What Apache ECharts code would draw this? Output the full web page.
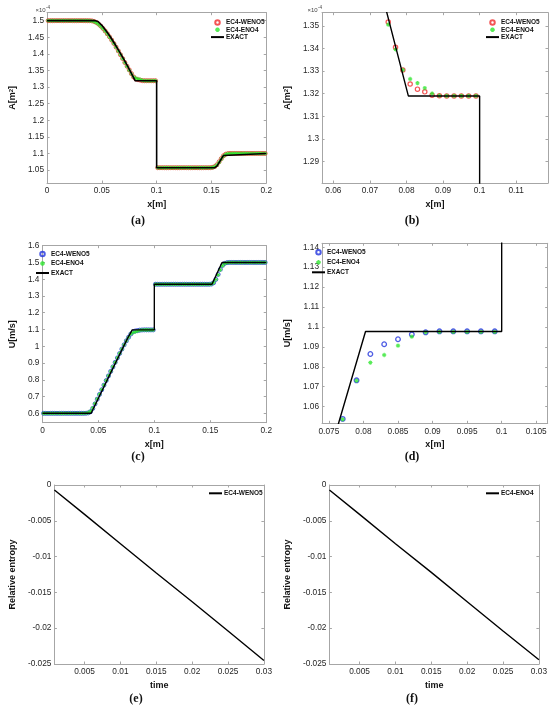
<!DOCTYPE html>
<html><head><meta charset="utf-8">
<script src="https://cdn.jsdelivr.net/npm/echarts@6/dist/echarts.min.js"></script>
<style>
html,body{margin:0;padding:0;background:#fff;width:550px;height:708px;overflow:hidden}
.p{position:absolute}
</style></head>
<body>
<div id="pa" class="p" style="left:0;top:0;width:275px;height:232px"></div>
<div id="pb" class="p" style="left:275px;top:0;width:275px;height:232px"></div>
<div id="pc" class="p" style="left:0;top:230px;width:275px;height:238px"></div>
<div id="pd" class="p" style="left:275px;top:230px;width:275px;height:238px"></div>
<div id="pe" class="p" style="left:0;top:460px;width:275px;height:248px"></div>
<div id="pf" class="p" style="left:275px;top:460px;width:275px;height:248px"></div>
<script>
// ---------- data ----------
const xCells = [
0.001,0.003,0.005,0.007,0.009,0.011,0.013,0.015,0.017,0.019,
0.021,0.023,0.025,0.027,0.029,0.031,0.033,0.035,0.037,0.039,
0.041,0.043,0.045,0.047,0.049,0.051,0.053,0.055,0.057,0.059,
0.061,0.063,0.065,0.067,0.069,0.071,0.073,0.075,0.077,0.079,
0.081,0.083,0.085,0.087,0.089,0.091,0.093,0.095,0.097,0.099,
0.101,0.103,0.105,0.107,0.109,0.111,0.113,0.115,0.117,0.119,
0.121,0.123,0.125,0.127,0.129,0.131,0.133,0.135,0.137,0.139,
0.141,0.143,0.145,0.147,0.149,0.151,0.153,0.155,0.157,0.159,
0.161,0.163,0.165,0.167,0.169,0.171,0.173,0.175,0.177,0.179,
0.181,0.183,0.185,0.187,0.189,0.191,0.193,0.195,0.197,0.199];

// A in units of 1e-4 m^2
const aWENO5 = [
1.5,1.5,1.5,1.5,1.5,1.5,1.5,1.5,1.5,1.5,
1.5,1.5,1.5,1.5,1.5,1.5,1.5,1.5,1.4999,1.4998,
1.4993,1.4975,1.4945,1.4898,1.4838,1.4768,1.4690,1.4605,1.4513,1.4415,
1.4312,1.4203,1.4090,1.3975,1.3858,1.3740,1.3628,1.3518,1.3406,1.3305,
1.3243,1.3220,1.3208,1.3193,1.3191,1.319,1.319,1.319,1.319,1.319,
1.057,1.057,1.057,1.057,1.057,1.057,1.057,1.057,1.057,1.057,
1.057,1.057,1.057,1.057,1.057,1.057,1.057,1.057,1.057,1.057,
1.057,1.057,1.057,1.057,1.0572,1.0580,1.0605,1.0660,1.0750,1.0845,
1.0930,1.0978,1.0995,1.1,1.1,1.1,1.1,1.1,1.1,1.1,
1.1,1.1,1.1,1.1,1.1,1.1,1.1,1.1,1.1,1.1];
const aENO4 = [
1.5,1.5,1.5,1.5,1.5,1.5,1.5,1.5,1.5,1.5,
1.5,1.5,1.5,1.5,1.5,1.5,1.5,1.5,1.4999,1.4996,
1.4988,1.4968,1.4936,1.4890,1.4831,1.4762,1.4685,1.4600,1.4509,1.4412,
1.4309,1.4201,1.4088,1.3972,1.3855,1.3737,1.3620,1.3506,1.3396,1.3305,
1.3265,1.3247,1.3225,1.3201,1.3191,1.319,1.319,1.319,1.319,1.319,
1.057,1.057,1.057,1.057,1.057,1.057,1.057,1.057,1.057,1.057,
1.057,1.057,1.057,1.057,1.057,1.057,1.057,1.057,1.057,1.057,
1.057,1.057,1.057,1.057,1.0571,1.0578,1.0600,1.0650,1.0735,1.0830,
1.0920,1.0972,1.0993,1.0999,1.1,1.1,1.1,1.1,1.1,1.1,
1.1,1.1,1.1,1.1,1.1,1.1,1.1,1.1,1.1,1.1];
const uWENO5 = [
0.6,0.6,0.6,0.6,0.6,0.6,0.6,0.6,0.6,0.6,
0.6,0.6,0.6,0.6,0.6,0.6,0.6,0.6,0.6001,0.6005,
0.6025,0.6095,0.6290,0.6560,0.6845,0.7125,0.7405,0.7680,0.7955,0.8230,
0.8500,0.8770,0.9040,0.9305,0.9570,0.9830,1.0085,1.0325,1.0538,1.0732,
1.0864,1.0913,1.0938,1.0963,1.0973,1.0978,1.0978,1.0978,1.0978,1.0978,
1.37,1.37,1.37,1.37,1.37,1.37,1.37,1.37,1.37,1.37,
1.37,1.37,1.37,1.37,1.37,1.37,1.37,1.37,1.37,1.37,
1.37,1.37,1.37,1.37,1.3700,1.3712,1.3790,1.3990,1.4290,1.4590,
1.4830,1.4950,1.4990,1.5,1.5,1.5,1.5,1.5,1.5,1.5,
1.5,1.5,1.5,1.5,1.5,1.5,1.5,1.5,1.5,1.5];
const uENO4 = [
0.6,0.6,0.6,0.6,0.6,0.6,0.6,0.6,0.6,0.6,
0.6,0.6,0.6,0.6,0.6,0.6,0.6,0.6,0.6003,0.6010,
0.6040,0.6130,0.6320,0.6580,0.6860,0.7135,0.7412,0.7688,0.7962,0.8236,
0.8507,0.8776,0.9045,0.9310,0.9573,0.9832,1.0085,1.0322,1.0536,1.0730,
1.0821,1.0859,1.0906,1.0951,1.0973,1.0975,1.0975,1.0975,1.0975,1.0975,
1.37,1.37,1.37,1.37,1.37,1.37,1.37,1.37,1.37,1.37,
1.37,1.37,1.37,1.37,1.37,1.37,1.37,1.37,1.37,1.37,
1.37,1.37,1.37,1.37,1.3700,1.3715,1.3800,1.3980,1.4260,1.4560,
1.4800,1.4935,1.4985,1.4998,1.5,1.5,1.5,1.5,1.5,1.5,
1.5,1.5,1.5,1.5,1.5,1.5,1.5,1.5,1.5,1.5];

const exactAX = [0,0.044,0.0465,0.05,0.054,0.058,0.062,0.066,0.070,0.074,0.0805,0.1,0.1,0.153,0.155,0.158,0.161,0.1625,0.2];
const exactAY = [1.5,1.5,1.4975,1.486,1.469,1.45,1.429,1.407,1.384,1.3598,1.319,1.319,1.057,1.057,1.062,1.078,1.094,1.1,1.1];
const exactUX = [0,0.0435,0.05,0.06,0.07,0.0764,0.0803,0.1,0.1,0.1515,0.1605,0.2];
const exactUY = [0.6,0.6,0.69,0.828,0.965,1.0516,1.0977,1.0977,1.37,1.37,1.5,1.5];

const timeE = [0.0008,0.005,0.01,0.015,0.02,0.025,0.03];
const entWENO5 = [-0.0007,-0.0041,-0.0082,-0.0123,-0.0163,-0.0204,-0.0245];
const entENO4 = [-0.0007,-0.0041,-0.0082,-0.0122,-0.0163,-0.0204,-0.0244];

const ticksAX = [0,0.05,0.1,0.15,0.2];
const ticksAY = [1.05,1.1,1.15,1.2,1.25,1.3,1.35,1.4,1.45,1.5];
const ticksBX = [0.06,0.07,0.08,0.09,0.1,0.11];
const ticksBY = [1.29,1.3,1.31,1.32,1.33,1.34,1.35];
const ticksCX = [0,0.05,0.1,0.15,0.2];
const ticksCY = [0.6,0.7,0.8,0.9,1,1.1,1.2,1.3,1.4,1.5,1.6];
const ticksDX = [0.075,0.08,0.085,0.09,0.095,0.1,0.105];
const ticksDY = [1.06,1.07,1.08,1.09,1.1,1.11,1.12,1.13,1.14];
const ticksEX = [0.005,0.01,0.015,0.02,0.025,0.03];
const ticksEY = [-0.025,-0.02,-0.015,-0.01,-0.005,0];

// ---------- styling helpers ----------
const FONT = 'Liberation Sans, Arial, sans-serif';
const SERIF = 'Liberation Serif, DejaVu Serif, serif';
const AX = '#a6a6a6';
const TXT = '#262626';
const RED = '#f02a2a', GREEN = '#2ee62e', BLUE = '#2233dd';
const STAR = 'path://M5,0L5,10M0,5L10,5M1.6,1.6L8.4,8.4M1.6,8.4L8.4,1.6';
const fmt = v => String(parseFloat(Number(v).toFixed(6)));
const pairs = (xs, ys) => xs.map((x, i) => [x, ys[i]]);

function axes(dim, c) {
  const isX = dim === 'x';
  const main = {
    type: 'value', min: c.min, max: c.max, position: isX ? 'bottom' : 'left',
    name: c.name, nameLocation: 'middle', nameGap: c.gap, nameRotate: isX ? 0 : 90,
    nameTextStyle: { fontFamily: FONT, fontWeight: 'bold', fontSize: 9, color: '#111',
      rich: { sup: { fontFamily: FONT, fontWeight: 'bold', fontSize: 6, color: '#111', verticalAlign: 'top', padding: [0, 0, 3, 0] } } },
    axisLine: { show: true, onZero: false, lineStyle: { color: AX, width: 1 } },
    axisTick: { show: true, inside: true, length: 2.5, customValues: c.ticks, lineStyle: { color: AX } },
    axisLabel: { customValues: c.ticks, formatter: fmt, fontFamily: FONT, fontSize: 8.3, color: TXT, margin: isX ? 4 : 3 },
    splitLine: { show: false }
  };
  const mirror = {
    type: 'value', min: c.min, max: c.max, position: isX ? 'top' : 'right',
    axisLine: { show: true, onZero: false, lineStyle: { color: AX, width: 1 } },
    axisTick: { show: true, inside: true, length: 2.5, customValues: c.ticks, lineStyle: { color: AX } },
    axisLabel: { show: false }, splitLine: { show: false }
  };
  return [main, mirror];
}
function circ(name, data, color, size, bw) {
  return { type: 'scatter', name, data, symbol: 'circle', symbolSize: size, clip: true, silent: true,
    itemStyle: { color: 'rgba(255,255,255,0)', borderColor: color, borderWidth: bw || 1 } };
}
function star(name, data, color, size) {
  return { type: 'scatter', name, data, symbol: STAR, symbolSize: size, clip: true, silent: true,
    itemStyle: { color: color, borderColor: color, borderWidth: 1 } };
}
function exact(name, data, w) {
  return { type: 'line', name, data, symbol: 'none', showSymbol: false, clip: true, silent: true,
    lineStyle: { color: '#000', width: w }, itemStyle: { color: '#000' }, z: 3 };
}
// names: list of [name, kind] where kind 'line' hides the marker in the legend icon
function legend(left, top, gap, names) {
  return { orient: 'vertical', left, top, padding: 0, itemWidth: 13, itemHeight: 4.5, itemGap: gap, selectedMode: false,
    data: names.map(n => n[1] === 'line'
      ? { name: n[0], itemStyle: { opacity: 0 } }
      : { name: n[0] }),
    textStyle: { fontFamily: FONT, fontWeight: 'bold', fontSize: 6.5, color: '#111', lineHeight: 7, padding: [0, 0, 0, -3] } };
}
function caption(text, x, y) {
  return { type: 'text', x, y, silent: true,
    style: { text, fontFamily: SERIF, fontWeight: 'bold', fontSize: 12, fill: '#111',
      textAlign: 'center', textVerticalAlign: 'middle', align: 'center', verticalAlign: 'middle' } };
}
function expo(x, y) {
  return [
    { type: 'text', x, y, silent: true, style: { text: '\u00d710', fontFamily: FONT, fontSize: 6, fill: '#444',
      textVerticalAlign: 'middle', verticalAlign: 'middle' } },
    { type: 'text', x: x + 10.5, y: y - 2.2, silent: true, style: { text: '-4', fontFamily: FONT, fontSize: 4.6, fill: '#444',
      textVerticalAlign: 'middle', verticalAlign: 'middle' } }
  ];
}
function draw(id, cfg) {
  const ch = echarts.init(document.getElementById(id), null, { renderer: 'canvas' });
  ch.setOption({
    animation: false,
    grid: Object.assign({ containLabel: false }, cfg.grid),
    xAxis: axes('x', cfg.x),
    yAxis: axes('y', cfg.y),
    legend: cfg.legend,
    graphic: cfg.graphic,
    series: cfg.series
  });
}
const LEG3 = [['EC4-WENO5', 'mark'], ['EC4-ENO4', 'mark'], ['EXACT', 'line']];

// (a)
draw('pa', {
  grid: { left: 35, top: 12.7, width: 234, height: 170.3 },
  x: { min: 0, max: 0.2, ticks: ticksAX, name: 'x[m]', gap: 14 },
  y: { min: 1.011, max: 1.524, ticks: ticksAY, name: 'A[m{sup|2}]', gap: 18.5 },
  legend: legend(210, 19, 0.3, LEG3),
  graphic: expo(35.5, 10).concat([caption('(a)', 138, 221)]),
  series: [circ('EC4-WENO5', pairs(xCells, aWENO5), RED, 4), star('EC4-ENO4', pairs(xCells, aENO4), GREEN, 4),
    exact('EXACT', pairs(exactAX, exactAY), 1.6)]
});
// (b)
draw('pb', {
  grid: { left: 32, top: 12.7, width: 241, height: 170.3 },
  x: { min: 0.0569, max: 0.1187, ticks: ticksBX, name: 'x[m]', gap: 14 },
  y: { min: 1.2804, max: 1.3559, ticks: ticksBY, name: 'A[m{sup|2}]', gap: 17.5 },
  legend: legend(210, 19, 0.3, LEG3),
  graphic: expo(32.5, 10).concat([caption('(b)', 137, 221)]),
  series: [circ('EC4-WENO5', pairs(xCells, aWENO5), RED, 4.3, 1.2), star('EC4-ENO4', pairs(xCells, aENO4), GREEN, 4.3),
    exact('EXACT', pairs(exactAX, exactAY), 1.4)]
});
// (c)
draw('pc', {
  grid: { left: 29.3, top: 15.7, width: 240, height: 177 },
  x: { min: 0, max: 0.2, ticks: ticksCX, name: 'x[m]', gap: 13.5 },
  y: { min: 0.544, max: 1.6, ticks: ticksCY, name: 'U[m/s]', gap: 17.5 },
  legend: legend(35, 20.5, 2.5, LEG3),
  graphic: [caption('(c)', 138, 227)],
  series: [circ('EC4-WENO5', pairs(xCells, uWENO5), BLUE, 4), star('EC4-ENO4', pairs(xCells, uENO4), GREEN, 4),
    exact('EXACT', pairs(exactUX, exactUY), 1.4)]
});
// (d)
draw('pd', {
  grid: { left: 30.7, top: 13.3, width: 242, height: 180 },
  x: { min: 0.07401, max: 0.10666, ticks: ticksDX, name: 'x[m]', gap: 13.5 },
  y: { min: 1.0516, max: 1.142, ticks: ticksDY, name: 'U[m/s]', gap: 19.5 },
  legend: legend(36, 18.8, 3, LEG3),
  graphic: [caption('(d)', 137, 227)],
  series: [circ('EC4-WENO5', pairs(xCells, uWENO5), BLUE, 4.6, 1.3), star('EC4-ENO4', pairs(xCells, uENO4), GREEN, 4.3),
    exact('EXACT', pairs(exactUX, exactUY), 1.4)]
});
// (e)
draw('pe', {
  grid: { left: 39.5, top: 25, width: 228.5, height: 179 },
  x: { min: 0.0008, max: 0.03, ticks: ticksEX, name: 'time', gap: 13.2 },
  y: { min: -0.025, max: 0, ticks: ticksEY, name: 'Relative entropy', gap: 27.5 },
  legend: legend(208, 29.8, 1, [['EC4-WENO5', 'line']]),
  graphic: [caption('(e)', 136, 239)],
  series: [exact('EC4-WENO5', pairs(timeE, entWENO5), 1.4)]
});
// (f)
draw('pf', {
  grid: { left: 37, top: 25, width: 236, height: 179 },
  x: { min: 0.0008, max: 0.03, ticks: ticksEX, name: 'time', gap: 13.2 },
  y: { min: -0.025, max: 0, ticks: ticksEY, name: 'Relative entropy', gap: 25 },
  legend: legend(210, 29.8, 1, [['EC4-ENO4', 'line']]),
  graphic: [caption('(f)', 137, 239)],
  series: [exact('EC4-ENO4', pairs(timeE, entENO4), 1.4)]
});
</script>
</body></html>
